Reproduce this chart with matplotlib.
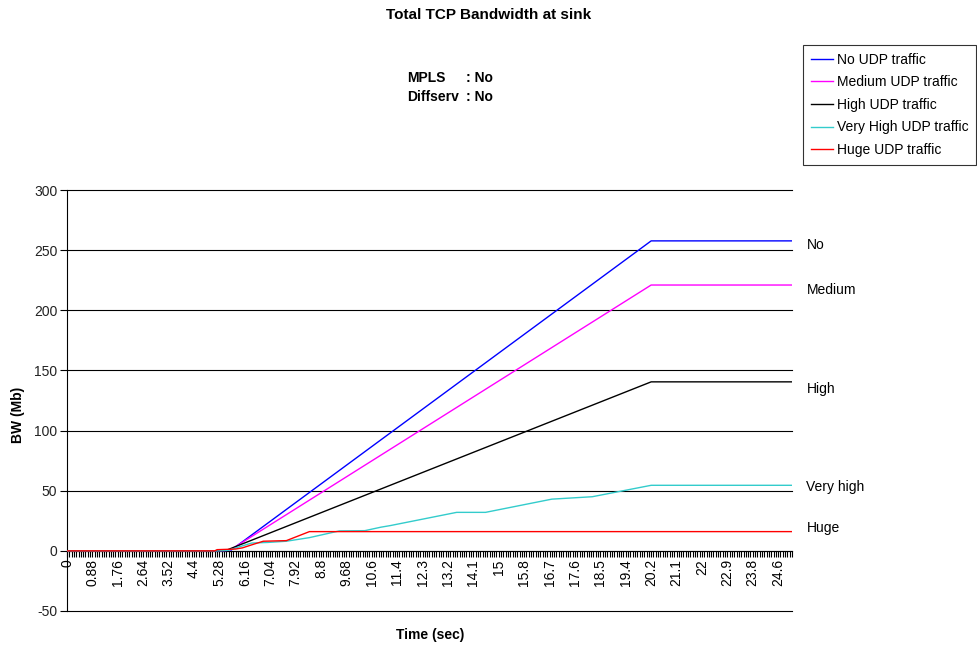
import numpy as np
import matplotlib
matplotlib.use('Agg')
from matplotlib import pyplot as plt

plt.rcParams['font.family'] = ['Liberation Sans', 'DejaVu Sans']
plt.rcParams['font.size'] = 10
plt.rcParams['axes.unicode_minus'] = False

# break points of each trace (time in sec, BW in Mb)
noTime = [0, 5.2, 5.68, 20.24, 25.12]
noBW = [0, 0, 0.5, 257.7, 257.7]

mediumTime = [0, 5.2, 5.64, 20.24, 25.12]
mediumBW = [0, 0, 0.5, 221, 221]

highTime = [0, 5.2, 5.52, 20.24, 25.12]
highBW = [0, 0, 0.5, 140.5, 140.5]

veryHighTime = [0, 5.2, 5.6, 5.92, 6.4, 6.96, 7.6, 8.4, 9.44, 10.32, 10.88, 11.2, 13.5, 14.5,
                16.8, 18.2, 20.24, 25.12]
veryHighBW = [0, 0, 0.5, 3, 6.5, 7, 8, 11, 16.6, 16.8, 19.7, 21, 32, 32,
              43, 45, 54.5, 54.5]

hugeTime = [0, 5.12, 5.2, 5.84, 6.08, 6.4, 6.8, 7.6, 8.08, 8.4, 25.12]
hugeBW = [0, 0, 1, 1.5, 2.5, 5, 8, 8.5, 13, 16, 16]

seriesNames = ['No UDP traffic', 'Medium UDP traffic', 'High UDP traffic',
               'Very High UDP traffic', 'Huge UDP traffic']
seriesColors = ['#0000FF', '#FF00FF', '#000000', '#33CCCC', '#FF0000']
endLabels = ['No', 'Medium', 'High', 'Very high', 'Huge']
endLabelY = [254.4, 217, 134.7, 53.2, 19.1]

timeLabels = ['0', '0.88', '1.76', '2.64', '3.52', '4.4', '5.28', '6.16', '7.04', '7.92',
              '8.8', '9.68', '10.6', '11.4', '12.3', '13.2', '14.1', '15', '15.8', '16.7',
              '17.6', '18.5', '19.4', '20.2', '21.1', '22', '22.9', '23.8', '24.6']
sampleStep = 0.08
labelEvery = 11
lastTime = 25.12

fig = plt.figure(figsize=(9.77, 6.46), dpi=100)
ax = fig.add_axes([67 / 977, 1 - 611 / 646, (792 - 67) / 977, (611 - 190) / 646])

times = [noTime, mediumTime, highTime, veryHighTime, hugeTime]
values = [noBW, mediumBW, highBW, veryHighBW, hugeBW]
for t, v, name, col in zip(times, values, seriesNames, seriesColors):
    ax.plot(t, v, color=col, lw=1.0, label=name, zorder=3)

ax.set_xlim(0, lastTime)
ax.set_ylim(-50, 300)
ax.set_yticks(np.arange(-50, 301, 50))

# category axis: one tick per sample, one label every 11 samples
ax.set_xticks(np.arange(len(timeLabels)) * sampleStep * labelEvery)
ax.set_xticklabels(timeLabels)
ax.set_xticks(np.arange(0, lastTime + 1e-6, sampleStep), minor=True)
ax.tick_params(axis='x', which='both', direction='out', length=4, width=0.8, pad=2,
               labelsize=10, labelrotation=90)
ax.tick_params(axis='y', direction='out', length=5, width=0.8, pad=2, labelsize=10)
for lab in ax.get_xticklabels():
    lab.set_color('#222222')
for lab in ax.get_yticklabels():
    lab.set_color('#222222')

ax.spines['top'].set_visible(False)
ax.spines['right'].set_visible(False)
ax.spines['bottom'].set_position(('data', 0))
ax.spines['left'].set_linewidth(0.8)
ax.spines['bottom'].set_linewidth(0.8)
ax.yaxis.grid(True, color='black', lw=0.8)
ax.set_axisbelow(True)
for gl in ax.get_ygridlines():
    gl.set_clip_on(False)

for lab, y in zip(endLabels, endLabelY):
    ax.text(lastTime + 0.5, y, lab, va='center', ha='left', fontsize=10, clip_on=False)

fig.text(0.5, 1 - 15 / 646, 'Total TCP Bandwidth at sink', ha='center', va='center',
         fontsize=11, fontweight='bold')
fig.text(407 / 977, 1 - 78 / 646, 'MPLS', ha='left', va='center', fontsize=10, fontweight='bold')
fig.text(466 / 977, 1 - 78 / 646, ': No', ha='left', va='center', fontsize=10, fontweight='bold')
fig.text(407 / 977, 1 - 97 / 646, 'Diffserv', ha='left', va='center', fontsize=10, fontweight='bold')
fig.text(466 / 977, 1 - 97 / 646, ': No', ha='left', va='center', fontsize=10, fontweight='bold')

fig.text(18 / 977, 1 - 415 / 646, 'BW (Mb)', rotation=90, ha='center', va='center',
         fontsize=10, fontweight='bold')
fig.text(430 / 977, 1 - 635 / 646, 'Time (sec)', ha='center', va='center',
         fontsize=10, fontweight='bold')

leg = fig.legend(loc='upper left', bbox_to_anchor=(803 / 977, 1 - 45 / 646), fontsize=10,
                 frameon=True, fancybox=False, shadow=False, handlelength=1.6,
                 handletextpad=0.3, labelspacing=0.62, borderpad=0.55, borderaxespad=0)
leg.get_frame().set_edgecolor('black')
leg.get_frame().set_linewidth(0.8)

fig.savefig('out.png', dpi=100)
